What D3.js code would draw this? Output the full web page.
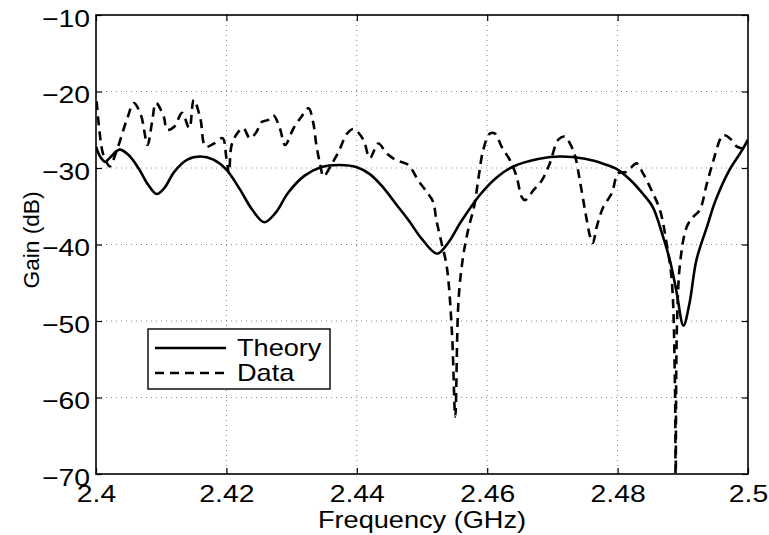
<!DOCTYPE html>
<html>
<head>
<meta charset="utf-8">
<script src="https://cdn.jsdelivr.net/npm/d3@7"></script>
<style>
  body { margin: 0; background: #fff; }
  svg text { font-family: "Liberation Sans", Arial, sans-serif; fill: #000; }
</style>
</head>
<body>
<svg id="chart" width="769" height="535"></svg>
<script>
// Theory vs measured gain

const theoryFreq = [2.4000, 2.4007, 2.4014, 2.4022, 2.4036, 2.4050, 2.4065, 2.4080, 2.4093, 2.4105,
    2.4120, 2.4140, 2.4160, 2.4180, 2.4200, 2.4220, 2.4240, 2.4258, 2.4275, 2.4295,
    2.4320, 2.4345, 2.4374, 2.4400, 2.4420, 2.4440, 2.4460, 2.4480, 2.4500, 2.4523,
    2.4540, 2.4560, 2.4589, 2.4615, 2.4640, 2.4680, 2.4712, 2.4750, 2.4780, 2.4800,
    2.4820, 2.4840, 2.4854, 2.4868, 2.4880, 2.4890, 2.4901, 2.4910, 2.4921, 2.4937,
    2.4950, 2.4970, 2.4990, 2.5000];
const theoryGain = [-27.2, -28.6, -29.2, -28.6, -27.6, -28.3, -30.0, -32.2, -33.4, -32.6,
    -30.5, -28.9, -28.5, -28.9, -30.2, -32.7, -35.5, -37.1, -35.9, -33.2,
    -31.0, -29.9, -29.6, -29.9, -30.8, -32.5, -34.7, -36.9, -39.3, -41.2,
    -39.8, -37.0, -33.5, -31.2, -29.8, -28.8, -28.5, -28.8, -29.5, -30.2,
    -31.6, -33.5, -35.1, -38.5, -42.0, -46.0, -50.6, -47.8, -42.0, -37.7,
    -34.3, -30.5, -27.8, -26.3];

const dataFreq = [2.4001, 2.4010, 2.4017, 2.4021, 2.4033, 2.4048, 2.4058, 2.4069, 2.4079, 2.4086,
    2.4092, 2.4104, 2.4109, 2.4120, 2.4132, 2.4143, 2.4150, 2.4160, 2.4168, 2.4181,
    2.4194, 2.4200, 2.4204, 2.4208, 2.4218, 2.4226, 2.4236, 2.4246, 2.4254, 2.4264,
    2.4272, 2.4282, 2.4290, 2.4303, 2.4315, 2.4326, 2.4333, 2.4338, 2.4344, 2.4349,
    2.4362, 2.4372, 2.4385, 2.4395, 2.4410, 2.4420, 2.4433, 2.4446, 2.4461, 2.4479,
    2.4494, 2.4507, 2.4517, 2.4522, 2.4530, 2.4538, 2.4546, 2.4551, 2.4556, 2.4563,
    2.4571, 2.4580, 2.4587, 2.4594, 2.4604, 2.4612, 2.4622, 2.4635, 2.4645, 2.4653,
    2.4658, 2.4671, 2.4684, 2.4696, 2.4709, 2.4719, 2.4727, 2.4735, 2.4742, 2.4750,
    2.4758, 2.4762, 2.4768, 2.4778, 2.4791, 2.4801, 2.4814, 2.4829, 2.4839, 2.4852,
    2.4865, 2.4875, 2.4883, 2.4888, 2.4889, 2.4891, 2.4896, 2.4906, 2.4916, 2.4926,
    2.4937, 2.4947, 2.4957, 2.4962, 2.4972, 2.4983, 2.4998];
const dataGain = [-21.3, -27.9, -29.4, -29.8, -27.4, -23.5, -21.5, -23.1, -27.0, -24.0,
    -21.5, -23.3, -25.0, -24.6, -22.8, -24.8, -21.1, -23.5, -27.2, -26.8,
    -26.1, -28.7, -30.7, -27.0, -25.3, -24.8, -26.1, -25.3, -24.0, -23.7,
    -23.1, -24.8, -27.0, -24.8, -23.3, -22.2, -24.0, -27.0, -29.6, -31.1,
    -29.4, -27.9, -25.5, -24.9, -26.3, -28.7, -26.8, -28.1, -29.0, -29.6,
    -31.6, -33.1, -34.4, -36.8, -39.8, -42.9, -51.6, -62.5, -47.3, -41.6,
    -38.0, -35.0, -31.1, -27.6, -25.5, -25.5, -27.2, -29.0, -31.1, -33.8,
    -34.2, -32.9, -31.6, -29.4, -26.3, -25.9, -26.8, -28.5, -31.6, -35.5,
    -39.0, -39.8, -37.7, -35.1, -33.3, -30.7, -30.5, -29.4, -30.7, -32.9,
    -35.5, -39.8, -44.6, -58.6, -72.0, -50.7, -42.3, -37.7, -36.4, -35.5,
    -32.0, -29.0, -26.3, -25.7, -26.1, -27.2, -27.6];

const xTicks = [2.4, 2.42, 2.44, 2.46, 2.48, 2.5];
const xTickLabels = ["2.4", "2.42", "2.44", "2.46", "2.48", "2.5"];
const yTicks = [-70, -60, -50, -40, -30, -20, -10];
const yTickLabels = ["\u221270", "\u221260", "\u221250", "\u221240", "\u221230", "\u221220", "\u221210"];
const legendLabels = ["Theory", "Data"];

const svg = d3.select("#chart");
const mLeft = 96, mRight = 748, mTop = 15, mBottom = 474;
const stretch = 1.18;   // reference text is a bit wide

const x = d3.scaleLinear().domain([2.4, 2.5]).range([mLeft, mRight]);
const y = d3.scaleLinear().domain([-70, -10]).range([mBottom, mTop]);

// ---- grid ----
const grid = svg.append("g").attr("stroke", "#888").attr("stroke-width", 1)
    .attr("stroke-dasharray", "1,4");
grid.selectAll(".gx").data(xTicks.slice(1, -1)).enter().append("line")
    .attr("x1", d => x(d)).attr("x2", d => x(d)).attr("y1", mTop).attr("y2", mBottom);
grid.selectAll(".gy").data(yTicks.slice(1, -1)).enter().append("line")
    .attr("x1", mLeft).attr("x2", mRight).attr("y1", d => y(d)).attr("y2", d => y(d));

// ---- curves ----
svg.append("clipPath").attr("id", "clip").append("rect")
    .attr("x", mLeft).attr("y", mTop).attr("width", mRight - mLeft).attr("height", mBottom - mTop);

const line = d3.line().x(d => x(d[0])).y(d => y(d[1])).curve(d3.curveCatmullRom.alpha(0.5));
const theory = d3.zip(theoryFreq, theoryGain);
const data = d3.zip(dataFreq, dataGain);

const plot = svg.append("g").attr("clip-path", "url(#clip)");
plot.append("path").datum(theory)
    .attr("d", line)
    .attr("fill", "none").attr("stroke", "#000").attr("stroke-width", 2.6);
plot.append("path").datum(data)
    .attr("d", line)
    .attr("fill", "none").attr("stroke", "#000").attr("stroke-width", 2.6)
    .attr("stroke-dasharray", "9,6");

// ---- axes (matlab style: inward ticks, full box) ----
const xAxis = svg.append("g").attr("transform", `translate(0,${mBottom})`)
    .call(d3.axisBottom(x).tickValues(xTicks).tickSize(-6).tickFormat((d, i) => xTickLabels[i]));
const xAxisTop = svg.append("g").attr("transform", `translate(0,${mTop})`)
    .call(d3.axisTop(x).tickValues(xTicks).tickSize(-6).tickFormat(""));
const yAxis = svg.append("g").attr("transform", `translate(${mLeft},0)`)
    .call(d3.axisLeft(y).tickValues(yTicks).tickSize(-6).tickFormat((d, i) => yTickLabels[i]));
const yAxisRight = svg.append("g").attr("transform", `translate(${mRight},0)`)
    .call(d3.axisRight(y).tickValues(yTicks).tickSize(-6).tickFormat(""));

[xAxis, xAxisTop, yAxis, yAxisRight].forEach(a => {
    a.select(".domain").remove();
    a.selectAll(".tick line").attr("stroke", "#000").attr("stroke-width", 1.2);
});
xAxis.selectAll(".tick text").attr("font-size", 24).attr("y", 28).attr("dy", null)
    .attr("transform", `scale(${stretch},1)`);
yAxis.selectAll(".tick text").attr("font-size", 24).attr("x", -5).attr("y", 11).attr("dy", null)
    .attr("transform", `scale(${stretch},1)`);

svg.append("rect").attr("x", mLeft).attr("y", mTop)
    .attr("width", mRight - mLeft).attr("height", mBottom - mTop)
    .attr("fill", "none").attr("stroke", "#000").attr("stroke-width", 1.6);

// ---- labels ----
svg.append("text").attr("transform", `translate(${(mLeft + mRight) / 2},528) scale(${stretch},1)`)
    .attr("text-anchor", "middle").attr("font-size", 23).text("Frequency (GHz)");
svg.append("text").attr("transform", "translate(39,240) rotate(-90) scale(1.03,1)")
    .attr("text-anchor", "middle").attr("font-size", 22).text("Gain (dB)");

// ---- legend ----
const legend = svg.append("g").attr("transform", "translate(148,329)");
legend.append("rect").attr("width", 182).attr("height", 60)
    .attr("fill", "#fff").attr("stroke", "#000").attr("stroke-width", 1.4);
legendLabels.forEach((lab, i) => {
    const ly = 19 + i * 25;
    legend.append("line").attr("x1", 7).attr("x2", 78).attr("y1", ly).attr("y2", ly)
        .attr("stroke", "#000").attr("stroke-width", 2.6)
        .attr("stroke-dasharray", i === 1 ? "9,6" : null);
    legend.append("text").attr("transform", `translate(89,${ly + 8}) scale(${stretch},1)`)
        .attr("font-size", 23).text(lab);
});
</script>
</body>
</html>
